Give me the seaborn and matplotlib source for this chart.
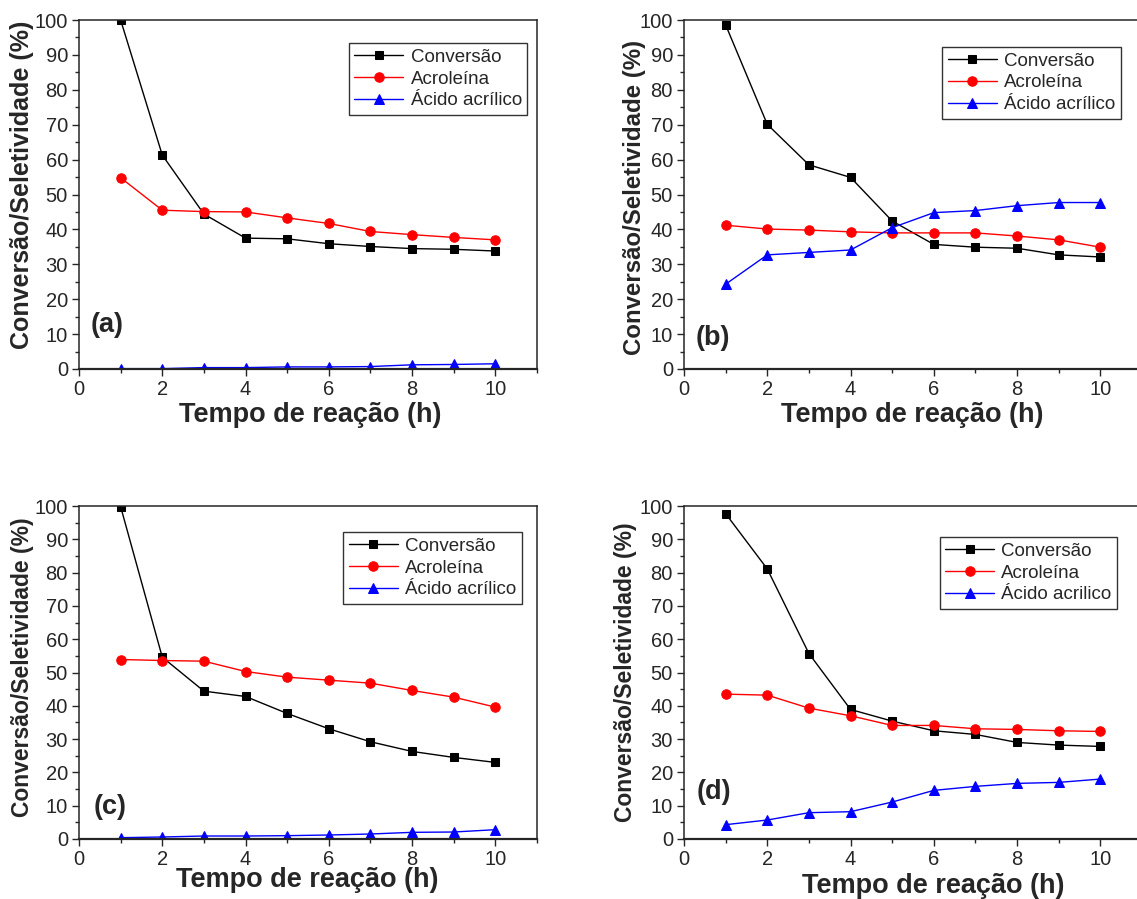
import numpy as np
import pandas as pd
import matplotlib
matplotlib.use('Agg')
import matplotlib.pyplot as plt
from matplotlib.ticker import MultipleLocator
import seaborn as sns

sns.set_style('ticks')
plt.rcParams['font.family'] = ['Liberation Sans', 'DejaVu Sans']

#%% data
tempo = [1, 2, 3, 4, 5, 6, 7, 8, 9, 10]

conv_a = [100.0, 61.3, 44.4, 37.5, 37.3, 35.9, 35.1, 34.5, 34.3, 33.8]
acro_a = [54.8, 45.5, 45.1, 45.0, 43.3, 41.7, 39.4, 38.5, 37.7, 37.0]
acid_a = [0.1, 0.1, 0.4, 0.4, 0.6, 0.6, 0.7, 1.2, 1.3, 1.5]

conv_b = [98.6, 70.1, 58.5, 54.9, 42.4, 35.7, 34.9, 34.6, 32.7, 32.1]
acro_b = [41.2, 40.1, 39.8, 39.3, 39.0, 39.0, 39.0, 38.1, 37.0, 34.9]
acid_b = [24.3, 32.7, 33.4, 34.1, 40.5, 44.8, 45.4, 46.8, 47.7, 47.7]

conv_c = [99.8, 54.6, 44.4, 42.8, 37.7, 33.1, 29.2, 26.3, 24.5, 23.0]
acro_c = [53.9, 53.6, 53.4, 50.3, 48.6, 47.7, 46.8, 44.6, 42.6, 39.6]
acid_c = [0.4, 0.6, 0.9, 0.9, 1.0, 1.2, 1.5, 2.0, 2.1, 2.8]

conv_d = [97.7, 81.1, 55.7, 38.9, 35.4, 32.5, 31.4, 29.0, 28.2, 27.8]
acro_d = [43.5, 43.2, 39.3, 37.0, 34.1, 34.1, 33.1, 32.9, 32.5, 32.3]
acid_d = [4.3, 5.7, 7.9, 8.2, 11.1, 14.6, 15.8, 16.7, 17.0, 18.0]

labels_abcd = ['(a)', '(b)', '(c)', '(d)']
acid_names = ['Ácido acrílico', 'Ácido acrílico', 'Ácido acrílico', 'Ácido acrilico']

#%% layout (figure fractions), per panel
W, H = 1137, 899
pos = [
    [79/W, 1-369/H, 458/W, 349/H],
    [684/W, 1-369/H, 458/W, 349/H],   # right spine falls just off the image
    [79/W, 1-839/H, 458/W, 333/H],
    [684/W, 1-839/H, 458/W, 333/H],
]
leg_anchor = [(0.979, 0.934), (0.954, 0.923), (0.967, 0.922), (0.946, 0.907)]
txt_xy = [(0.28, 12.6), (0.29, 8.9), (0.34, 9.6), (0.31, 14.1)]
xlab_xy = [(0.506, -0.095), (0.499, -0.095), (0.498, -0.084), (0.545, -0.102)]
ylab_xy = [(-0.099, 0.527), (-0.082, 0.493), (-0.099, 0.517), (-0.103, 0.502)]
ylab_fs = [18, 17.3, 16.5, 16.5]

series = [(conv_a, acro_a, acid_a), (conv_b, acro_b, acid_b),
          (conv_c, acro_c, acid_c), (conv_d, acro_d, acid_d)]

fig = plt.figure(figsize=(W/100, H/100), dpi=100)

for i in range(4):
    ax = fig.add_axes(pos[i])
    conv, acro, acid = series[i]
    sns.lineplot(x=tempo, y=conv, color='black', marker='s', markersize=6,
                 markeredgecolor='black', lw=1, label='Conversão', ax=ax)
    sns.lineplot(x=tempo, y=acro, color='red', marker='o', markersize=6.8,
                 markeredgecolor='red', lw=1, label='Acroleína', ax=ax)
    sns.lineplot(x=tempo, y=acid, color='blue', marker='^', markersize=7,
                 markeredgecolor='blue', lw=1, label=acid_names[i], ax=ax)

    ax.set_xlim(0, 11)
    ax.set_ylim(0, 100)
    ax.set_xticks([0, 2, 4, 6, 8, 10])
    ax.xaxis.set_minor_locator(MultipleLocator(1))
    ax.set_yticks(np.arange(0, 101, 10))
    ax.yaxis.set_minor_locator(MultipleLocator(5))
    ax.tick_params(axis='both', which='major', direction='out', length=5,
                   width=1, labelsize=14.5, pad=3)
    ax.tick_params(axis='both', which='minor', direction='out', length=3, width=1)
    for s in ax.spines.values():
        s.set_linewidth(1.1)
    ax.spines['bottom'].set_linewidth(1.6)

    ax.set_xlabel('Tempo de reação (h)', fontsize=19.5, fontweight='bold')
    ax.set_ylabel('Conversão/Seletividade (%)', fontsize=ylab_fs[i], fontweight='bold')
    ax.xaxis.set_label_coords(*xlab_xy[i])
    ax.yaxis.set_label_coords(*ylab_xy[i])

    ax.text(txt_xy[i][0], txt_xy[i][1], labels_abcd[i], fontsize=19.5,
            fontweight='bold', ha='left', va='center')

    leg = ax.legend(loc='upper right', bbox_to_anchor=leg_anchor[i], fontsize=13.5,
                    frameon=True, fancybox=False, edgecolor='black',
                    handlelength=2.6, borderpad=0.3, labelspacing=0.25,
                    handletextpad=0.4, borderaxespad=0)
    leg.get_frame().set_linewidth(1)

plt.savefig('out.png', dpi=100)
